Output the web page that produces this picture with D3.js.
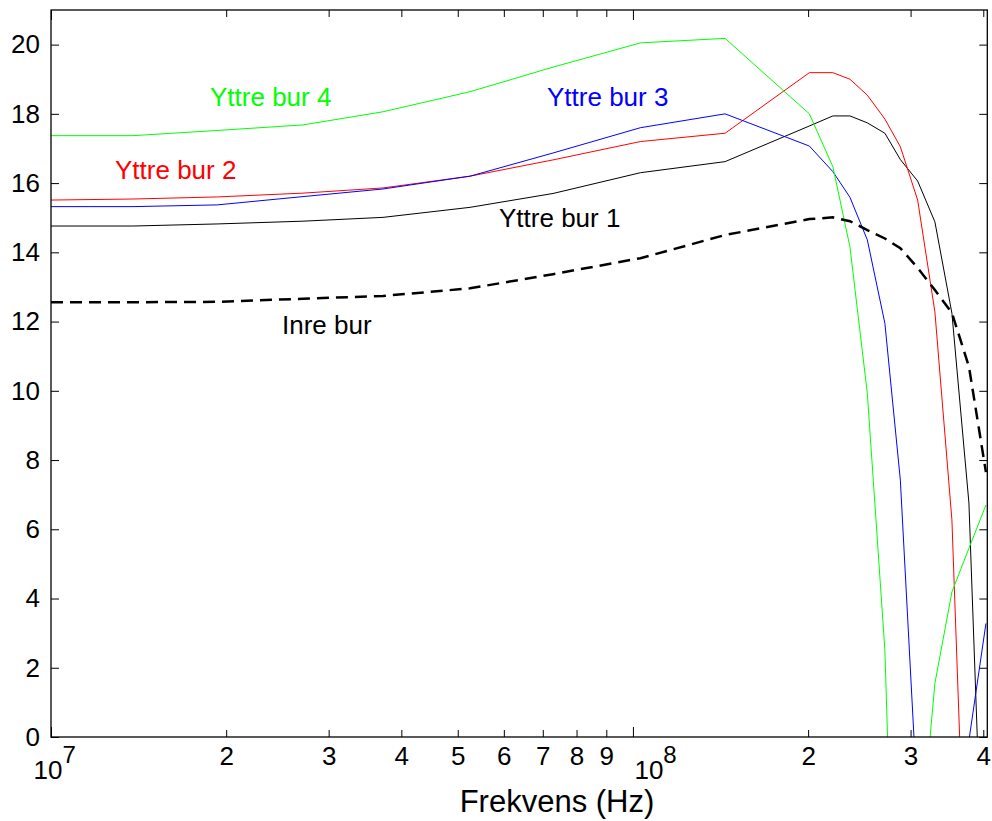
<!DOCTYPE html>
<html>
<head>
<meta charset="utf-8">
<script src="https://cdn.jsdelivr.net/npm/d3@7/dist/d3.min.js"></script>
<style>
  body { margin: 0; background: #fff; }
  svg { display: block; font-family: "Liberation Sans", Arial, sans-serif; }
</style>
</head>
<body>
<div id="chart"></div>
<script>
// frequency grid (MHz) shared by all curves
var freqMHz = [10, 13.83, 19.3, 27.1, 37.2, 52.5, 72.9, 103, 144, 201, 220.6, 236, 252.8, 271, 288.1, 308.5, 330.3, 353.3, 377.9, 404.2];

var yttreBur1 = [14.76, 14.76, 14.82, 14.9, 15.01, 15.3, 15.7, 16.3, 16.62, 17.65, 17.94, 17.94, 17.74, 17.44, 16.68, 16.06, 14.88, 12.24, 6.76, -7];
var yttreBur2 = [15.51, 15.54, 15.6, 15.71, 15.86, 16.2, 16.67, 17.2, 17.44, 19.19, 19.19, 19.0, 18.54, 17.85, 17.05, 15.51, 12.28, 6.27, -7.5, -20];
var yttreBur3 = [15.32, 15.32, 15.37, 15.61, 15.83, 16.2, 16.87, 17.6, 18.0, 17.07, 16.33, 15.59, 14.36, 11.95, 7.42, -2, -6, -5, -0.1, 3.28];
var yttreBur4 = [17.37, 17.37, 17.52, 17.68, 18.06, 18.64, 19.35, 20.05, 20.18, 18.0, 16.47, 14.16, 9.93, 2.51, -12, -4, 1.55, 4.19, 5.45, 6.7];
var inreBur   = [12.56, 12.56, 12.57, 12.66, 12.74, 12.96, 13.37, 13.83, 14.5, 14.96, 15.01, 14.9, 14.64, 14.4, 14.12, 13.55, 12.91, 12.25, 10.7, 7.65];

var yTicks = [0, 2, 4, 6, 8, 10, 12, 14, 16, 18, 20];
var xTicksMHz = [10, 20, 30, 40, 50, 60, 70, 80, 90, 100, 200, 300, 400];

var series = [
  { name: "Yttre bur 1", values: yttreBur1, color: "#000000", width: 1, dash: null, lx: 499, ly: 227 },
  { name: "Yttre bur 2", values: yttreBur2, color: "#ff0000", width: 1, dash: null, lx: 115, ly: 179 },
  { name: "Yttre bur 3", values: yttreBur3, color: "#0000ff", width: 1, dash: null, lx: 547, ly: 106 },
  { name: "Yttre bur 4", values: yttreBur4, color: "#00ff00", width: 1, dash: null, lx: 210, ly: 106 },
  { name: "Inre bur",    values: inreBur,   color: "#000000", width: 2.5, dash: "12,7", lx: 282, ly: 334 }
];

var W = 992, H = 821;
var margin = { top: 10, right: 4.7, bottom: 84, left: 51 };
var width = W - margin.left - margin.right;
var height = H - margin.top - margin.bottom;

var svg = d3.select("#chart").append("svg")
    .attr("width", W).attr("height", H);

svg.append("rect").attr("width", W).attr("height", H).attr("fill", "#fff");

var g = svg.append("g").attr("transform", "translate(" + margin.left + "," + margin.top + ")");

var x = d3.scaleLog().domain([1e7, 4.064e8]).range([0, width]);
var y = d3.scaleLinear().domain([0, 21]).range([height, 0]);

g.append("clipPath").attr("id", "plotclip")
  .append("rect").attr("width", width).attr("height", height);

var line = d3.line()
    .x(function(d) { return x(d[0] * 1e6); })
    .y(function(d) { return y(d[1]); });

var plot = g.append("g").attr("clip-path", "url(#plotclip)");

series.forEach(function(s) {
  var pts = freqMHz.map(function(f, i) { return [f, s.values[i]]; });
  plot.append("path")
      .datum(pts)
      .attr("d", line)
      .attr("fill", "none")
      .attr("stroke", s.color)
      .attr("stroke-width", s.width)
      .attr("stroke-dasharray", s.dash);
  g.append("text")
      .attr("x", s.lx - margin.left)
      .attr("y", s.ly - margin.top)
      .attr("fill", s.color)
      .attr("font-size", "26px")
      .text(s.name);
});

function isPow10(v) { return Math.abs(Math.log10(v) - Math.round(Math.log10(v))) < 1e-9; }

var xVals = xTicksMHz.map(function(f) { return f * 1e6; });

// bottom axis
var xAxis = g.append("g").attr("transform", "translate(0," + height + ")")
    .call(d3.axisBottom(x).tickValues(xVals).tickSizeInner(-7).tickSizeOuter(0).tickFormat(""));
xAxis.selectAll(".tick line").attr("y2", function(d) { return isPow10(d) ? -10 : -7; });

// top axis
var xTop = g.append("g")
    .call(d3.axisTop(x).tickValues(xVals).tickSizeInner(-7).tickSizeOuter(0).tickFormat(""));
xTop.selectAll(".tick line").attr("y2", function(d) { return isPow10(d) ? 10 : 7; });

// x tick labels
xAxis.selectAll(".tick").each(function(d) {
  var t = d3.select(this);
  if (isPow10(d)) {
    var e = Math.round(Math.log10(d));
    var txt = t.append("text")
        .attr("fill", "#000").attr("font-size", "26px")
        .attr("text-anchor", "start")
        .attr("x", e === 7 ? -18 : 1).attr("y", 42);
    txt.append("tspan").text("10");
    txt.append("tspan").attr("dy", -16).attr("font-size", "24px").text(e);
  } else {
    t.append("text")
        .attr("fill", "#000").attr("font-size", "26px")
        .attr("text-anchor", "middle")
        .attr("y", 28)
        .text(Math.round(d / Math.pow(10, Math.floor(Math.log10(d) + 1e-9))));
  }
});

// left axis
var yAxis = g.append("g")
    .call(d3.axisLeft(y).tickValues(yTicks).tickSizeInner(-8).tickSizeOuter(0).tickPadding(11));
yAxis.selectAll(".tick text").attr("font-size", "26px").attr("fill", "#000");

// right axis
g.append("g").attr("transform", "translate(" + width + ",0)")
    .call(d3.axisRight(y).tickValues(yTicks).tickSizeInner(-8).tickSizeOuter(0).tickFormat(""));

g.selectAll(".domain").remove();
g.selectAll(".tick line").attr("stroke", "#000").attr("stroke-width", 1);

// frame
g.append("rect")
    .attr("width", width).attr("height", height)
    .attr("fill", "none").attr("stroke", "#000").attr("stroke-width", 1.3);

// x label
svg.append("text")
    .attr("x", 557).attr("y", 812)
    .attr("text-anchor", "middle")
    .attr("font-size", "31px")
    .attr("fill", "#000")
    .text("Frekvens (Hz)");
</script>
</body>
</html>
